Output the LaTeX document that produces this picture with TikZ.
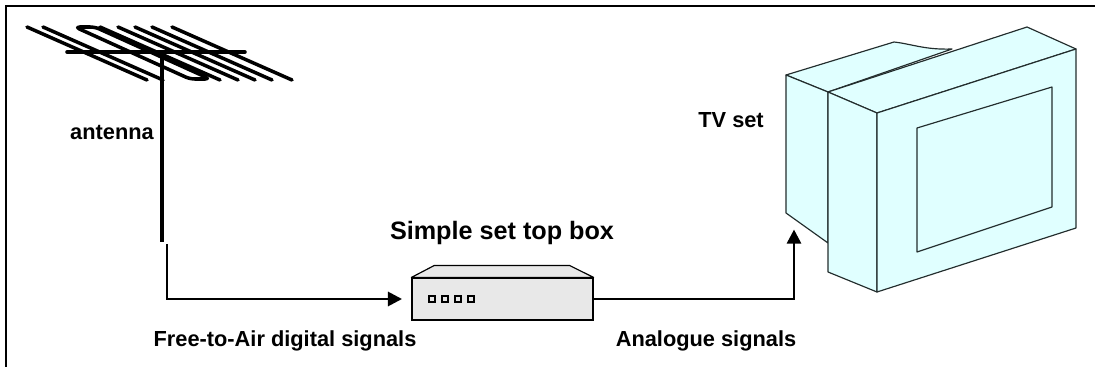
\documentclass[tikz,border=0pt]{standalone}
\usepackage{fontspec}
\setmainfont{Liberation Sans}
\usetikzlibrary{arrows.meta,calc}
\definecolor{tvcyan}{RGB}{224,255,255}
\definecolor{boxgray}{RGB}{232,232,232}
\definecolor{tvedge}{RGB}{35,45,45}

\begin{document}
\begin{tikzpicture}[x=0.03cm,y=-0.03cm,
    lbl/.style={font=\fontsize{18.6}{20}\selectfont\bfseries, inner sep=0pt},
    sig/.style={line width=2.3pt, -{Triangle[length=12pt,width=12pt]}},
    element/.style={line width=3pt, line cap=round, line join=round},
    tvface/.style={fill=tvcyan, draw=tvedge, line width=1pt, line join=round},
    stb/.style={draw, fill=boxgray, line width=1pt, minimum width=5.43cm, minimum height=1.26cm, inner sep=0pt}]
    \useasboundingbox (0,0) rectangle (1095,367);
    \draw[line width=2.4pt] (6,367) -- (6,6) -- (1095,6);

    % antenna
    \foreach \s in {27,43,100,118,135,152,172} \draw[element] (\s,27) -- ++(120,53);
    \draw[element, rounded corners=4pt] (75,27) -- (190,79) -- (210,79) -- (95,27) -- cycle;
    \draw[element] (67,52) -- (245,52); \draw[line width=3.3pt] (162,50) -- (162,242);
    \coordinate (feed) at (167,244);
    \node[lbl, anchor=east] (antlbl) at (154,132) {antenna};

    % set top box
    \node[stb] (stb) at (502.5,299) {};
    \draw[fill=boxgray, line width=1pt, line join=round] (stb.north west) -- ++(23,-12) -- ++(135,0) -- (stb.north east) -- cycle;
    \foreach \x in {432,445,458,471} \draw[line width=1pt] (\x-3,296) rectangle (\x+3,302);
    \node[font=\fontsize{21.5}{24}\selectfont\bfseries, inner sep=0pt] (stblbl) at (502,233) {Simple set top box};

    % TV set
    \draw[tvface] (786,75) -- (894,42) .. controls (912,44) and (925,50) .. (952,49) -- (828,92) -- cycle;
    \draw[tvface] (786,75) -- (828,92) -- (828,243) -- (786,213) -- cycle;
    \draw[tvface] (828,92) -- (1027,27) -- (1076,49) -- (877,113) -- cycle;
    \draw[tvface] (828,92) -- (877,113) -- (877,292) -- (828,272) -- cycle;
    \draw[tvface] (877,113) -- (1076,49) -- (1076,228) -- (877,292) -- cycle;
    \draw[tvface] (917,128) -- (1052,87) -- (1052,207) -- (917,252) -- cycle;
    \coordinate (tvin) at (794,219);
    \node[lbl, anchor=east] (tvlbl) at (764,120) {TV set};

    \draw[sig, shorten >=8pt] (feed) |- (stb.west);
    \draw[sig, shorten >=9pt] (stb.east) -| (tvin);
    \node[lbl] (fta) at (285,341) {Free-to-Air digital signals};
    \node[lbl] (ana) at (706,341) {Analogue signals};
\end{tikzpicture}
\end{document}
